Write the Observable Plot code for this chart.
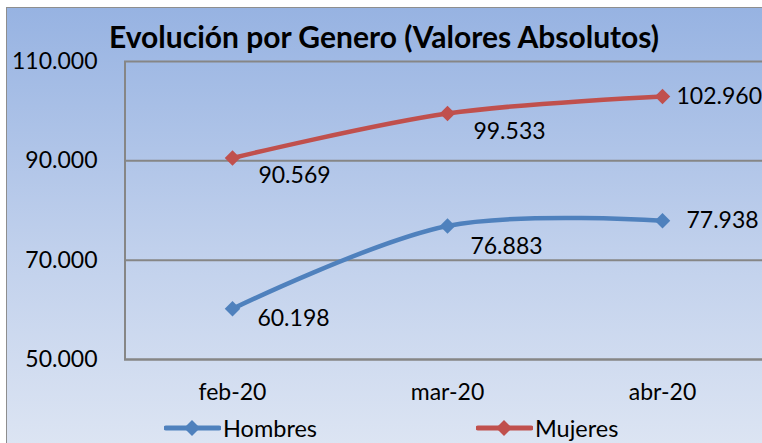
<!DOCTYPE html>
<html>
<head>
<meta charset="utf-8">
<script src="https://cdn.jsdelivr.net/npm/d3@7"></script>
<script src="https://cdn.jsdelivr.net/npm/@observablehq/plot@0.6"></script>
<style>
  html, body { margin: 0; padding: 0; background: #fff; }
  #wrap { position: relative; width: 762px; height: 443px; overflow: hidden; background: #fff; font-family: Lato, "Open Sans", sans-serif; }
  #bg { position: absolute; left: 6px; top: 7px; width: 800px; height: 480px; border: 1px solid #8e8e8e;
        background: linear-gradient(to bottom, #97b3e2 0px, #c0d0ec 240px, #dde5f3 443px); }
  #title { position: absolute; left: 109px; top: 18px; font-weight: 700; font-size: 30px; color: #000; white-space: nowrap; }
  #chart { position: absolute; left: 0; top: 0; }
  #legend { position: absolute; top: 414px; left: 0; width: 762px; height: 28px; }
  .lg { position: absolute; display: flex; align-items: center; font-size: 23.5px; color: #000; }
  .lg svg { margin-right: 2px; }
</style>
</head>
<body>
<div id="wrap">
  <div id="bg"></div>
  <div id="chart"></div>
  <div id="title"></div>
  <div id="legend"></div>
</div>
<script>
// ---- data ----
const titleText = "Evolución por Genero (Valores Absolutos)";
const months = ["feb-20", "mar-20", "abr-20"];
const seriesNames = ["Hombres", "Mujeres"];
const hombres = [60198, 76883, 77938];
const mujeres = [90569, 99533, 102960];
const yTicks = [50000, 70000, 90000, 110000];
const colors = ["#4f81bd", "#c0504d"];

// ---- build table ----
const rows = [];
months.forEach((m, i) => {
  rows.push({ month: m, idx: i, series: seriesNames[0], value: hombres[i] });
  rows.push({ month: m, idx: i, series: seriesNames[1], value: mujeres[i] });
});

const es = d3.formatLocale({ decimal: ",", thousands: ".", grouping: [3], currency: ["", " €"] });
const fmt = es.format(",d");

document.getElementById("title").textContent = titleText;

const labelStyle = { x: "month", y: "value", text: d => fmt(d.value), fill: "#000", stroke: null, fontSize: 23 };
const sel = (s, idxs) => rows.filter(d => d.series === s && idxs.includes(d.idx));

const chart = Plot.plot({
  width: 762,
  height: 443,
  marginLeft: 124,
  marginRight: 0,
  marginTop: 61,
  marginBottom: 84,
  style: { background: "transparent", fontFamily: "Lato, 'Open Sans', sans-serif", fontSize: "23px", color: "#000", overflow: "visible" },
  x: { type: "point", domain: months, padding: 0.5, range: [124, 769] },
  y: { domain: [50000, 110000], ticks: yTicks },
  color: { domain: seriesNames, range: colors },
  marks: [
    Plot.gridY(yTicks, { stroke: "#868686", strokeOpacity: 1, strokeWidth: 2 }),
    Plot.axisY({ ticks: yTicks, tickFormat: fmt, tickSize: 0, tickPadding: 27, fontSize: 23, label: null }),
    Plot.axisX({ tickSize: 0, tickPadding: 24, fontSize: 23, label: null }),
    Plot.ruleX([0], { x: () => months[0], dx: -107.5, y1: 50000, y2: 110000, stroke: "#868686", strokeWidth: 2 }),
    Plot.ruleY([50000], { stroke: "#868686", strokeWidth: 2 }),
    Plot.line(rows, { x: "month", y: "value", z: "series", stroke: "series", strokeWidth: 4.5, curve: "catmull-rom" }),
    Plot.dot(rows, { x: "month", y: "value", fill: "series", stroke: null, symbol: "diamond2", r: 7 }),
    // data labels
    Plot.text(sel("Mujeres", [0, 1]), { ...labelStyle, dx: 62, dy: 18 }),
    Plot.text(sel("Mujeres", [2]), { ...labelStyle, dx: 14, textAnchor: "start" }),
    Plot.text(sel("Hombres", [1]), { ...labelStyle, dx: 59, dy: 21 }),
    Plot.text(sel("Hombres", [0]), { ...labelStyle, dx: 61, dy: 10 }),
    Plot.text(sel("Hombres", [2]), { ...labelStyle, dx: 24, textAnchor: "start" })
  ]
});
document.getElementById("chart").appendChild(chart);

// ---- legend ----
const legendPos = [164, 476];
const legend = document.getElementById("legend");
seriesNames.forEach((name, i) => {
  const item = document.createElement("div");
  item.className = "lg";
  item.style.left = legendPos[i] + "px";
  item.innerHTML =
    `<svg width="57" height="20" viewBox="0 0 57 20">
       <line x1="2" y1="10" x2="55" y2="10" stroke="${colors[i]}" stroke-width="5" stroke-linecap="round"/>
       <path d="M28 2 L36 10 L28 18 L20 10 Z" fill="${colors[i]}"/>
     </svg><span>${name}</span>`;
  legend.appendChild(item);
});
</script>
</body>
</html>
